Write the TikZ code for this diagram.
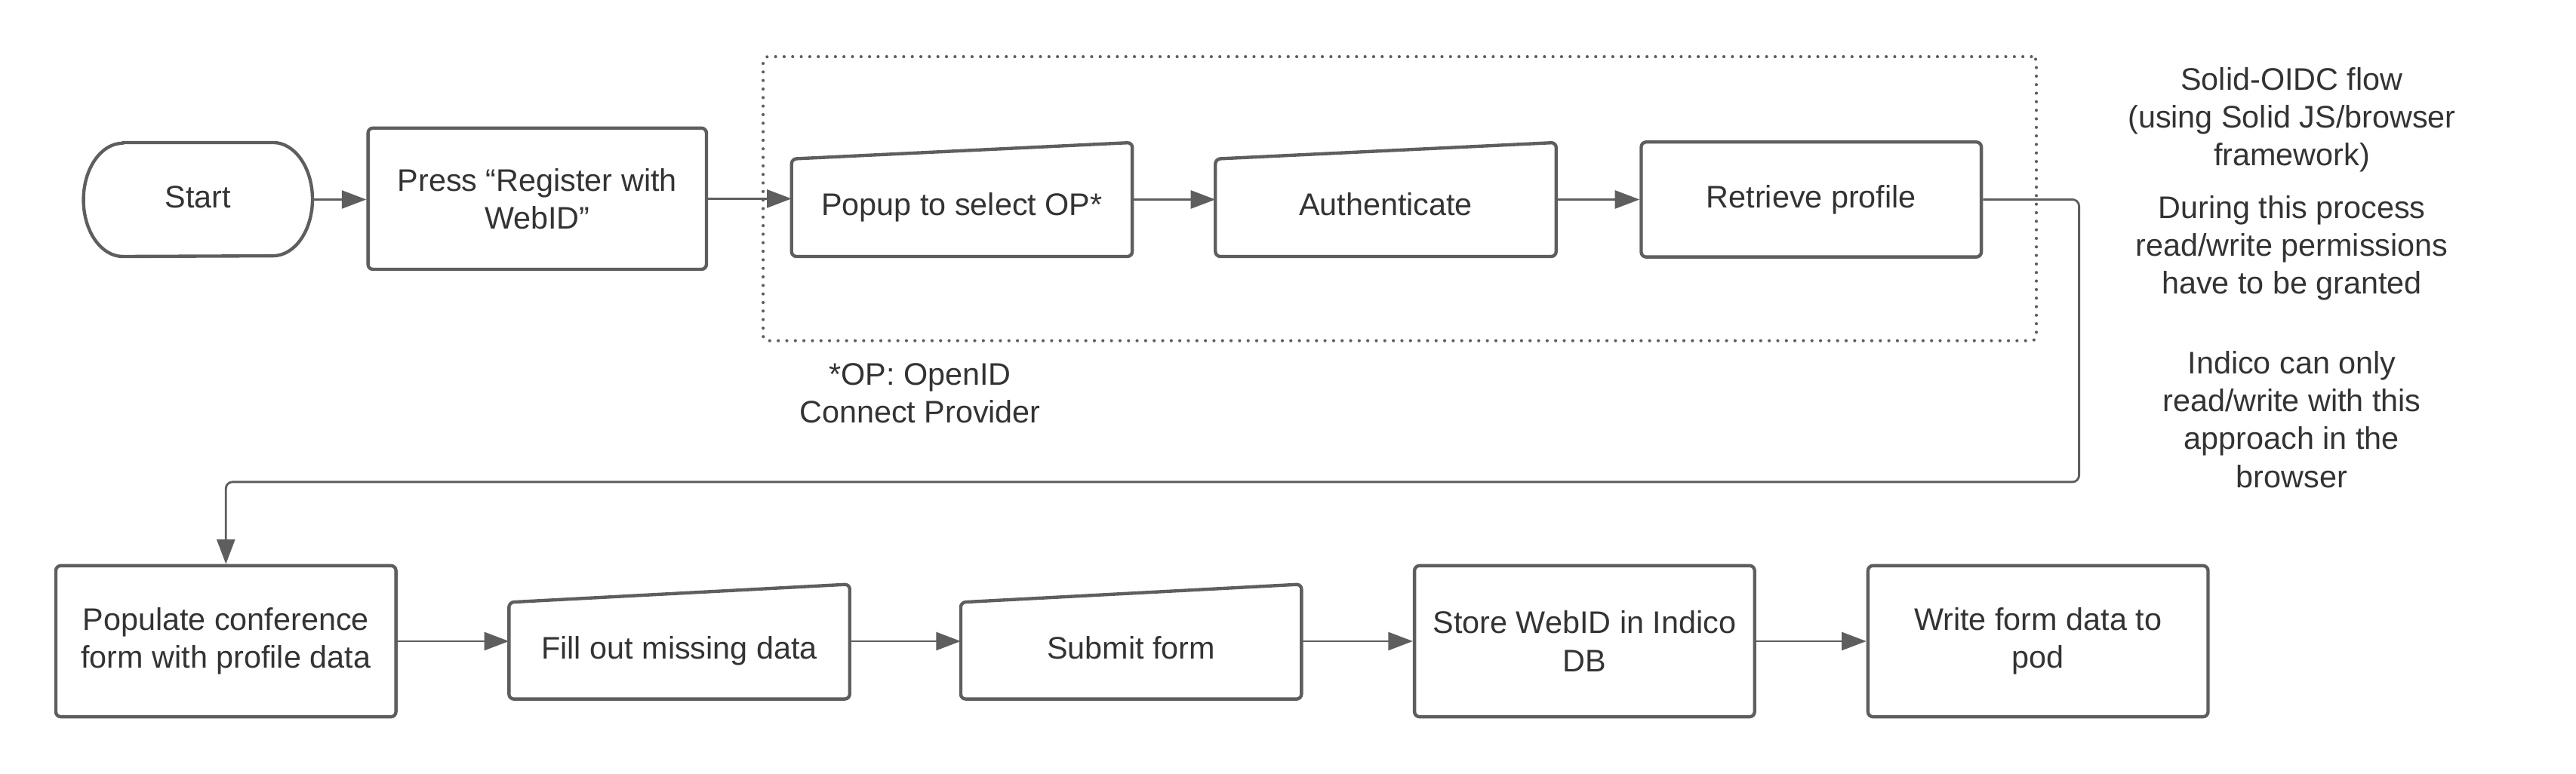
\documentclass[tikz,border=0pt]{standalone}
\usepackage{fontspec}
\setmainfont{Liberation Sans}
\usetikzlibrary{arrows.meta,calc}
\definecolor{strokegray}{HTML}{5E5E5E}
\definecolor{txtgray}{HTML}{333333}
\begin{document}
\begin{tikzpicture}[x=1pt,y=-1pt,
  every node/.style={font=\fontsize{19}{23}\selectfont, text=txtgray, align=center, inner sep=0pt},
  oneline/.style={text height=13.7pt, text depth=4pt},
  procbox/.style={draw=strokegray, line width=2pt, rounded corners=3pt, minimum width=207pt},
  hiddenbox/.style={minimum width=207pt, oneline},
  shapeline/.style={draw=strokegray, line width=2pt, rounded corners=3pt, line join=round},
  conn/.style={draw=strokegray, line width=1.3pt, -{Triangle[length=15pt,width=11pt]}},
  dotbox/.style={draw=strokegray, line width=1.9pt, dash pattern=on 0pt off 5.2pt, line cap=round, rounded corners=3pt}
]
\useasboundingbox (0,0) rectangle (1568,471);

% container
\node[dotbox, minimum width=775pt, minimum height=173pt] (group) at (852,121) {};

% row 1
\node[minimum width=139pt, minimum height=69pt, oneline] (start) at (120.5,121.5) {Start};
\draw[shapeline, rounded corners=0pt] ($(start.north west)+(24,0)$) -- ($(start.north east)+(-24,0)$)
  arc[start angle=90, end angle=-90, x radius=24pt, y radius=34.5pt]
  -- ($(start.south west)+(24,0)$)
  arc[start angle=270, end angle=90, x radius=24pt, y radius=34.5pt] -- cycle;

\node[procbox, minimum width=206pt, minimum height=86pt] (press) at (327,121) {Press “Register with\\WebID”};

\node[hiddenbox, minimum height=59pt] (popup) at (585.5,126.5) {Popup to select OP*};
\draw[shapeline] (popup.south west) -- (popup.north west) -- ($(popup.north east)+(0,-10)$) -- (popup.south east) -- cycle;

\node[hiddenbox, minimum height=59pt] (auth) at (843.5,126.5) {Authenticate};
\draw[shapeline] (auth.south west) -- (auth.north west) -- ($(auth.north east)+(0,-10)$) -- (auth.south east) -- cycle;

\node[procbox, oneline, minimum height=70pt] (retrieve) at (1102.5,121.5) {Retrieve profile};

% row 2
\node[procbox, minimum height=92pt] (populate) at (137.5,390.5) {Populate conference\\form with profile data};

\node[hiddenbox, minimum height=58.5pt] (fill) at (413.5,396.25) {Fill out missing data};
\draw[shapeline] (fill.south west) -- (fill.north west) -- ($(fill.north east)+(0,-11)$) -- (fill.south east) -- cycle;

\node[hiddenbox, minimum height=58.5pt] (submit) at (688.5,396.25) {Submit form};
\draw[shapeline] (submit.south west) -- (submit.north west) -- ($(submit.north east)+(0,-11)$) -- (submit.south east) -- cycle;

\node[procbox, minimum height=92pt] (store) at (964.5,390.5) {Store WebID in Indico\\DB};
\node[procbox, minimum height=92pt] (write) at (1240.5,390.5) {Write form data to\\pod};

% notes
\node (caption) at (560,239.5) {*OP: OpenID\\Connect Provider};
\node (note1) at (1395,73) {Solid-OIDC flow\\(using Solid JS/browser\\framework)};
\node (note2) at (1395,151) {During this process\\read/write permissions\\have to be granted};
\node (note3) at (1395,255.5) {Indico can only\\read/write with this\\approach in the\\browser};

% connectors
\draw[conn] (start.east) -- (start.east -| press.west);
\draw[conn] (press.east) -- (press.east -| popup.west);
\draw[conn] (popup.east |- retrieve.west) -- (auth.west |- retrieve.west);
\draw[conn] (auth.east |- retrieve.west) -- (retrieve.west);
\coordinate (bend) at (1265.5,293.5);
\draw[conn, rounded corners=4pt] (retrieve.east) -| (bend) -| (populate.north);
\draw[conn] (populate.east |- store.west) -- (fill.west |- store.west);
\draw[conn] (fill.east |- store.west) -- (submit.west |- store.west);
\draw[conn] (submit.east |- store.west) -- (store.west);
\draw[conn] (store.east) -- (write.west);
\end{tikzpicture}
\end{document}
